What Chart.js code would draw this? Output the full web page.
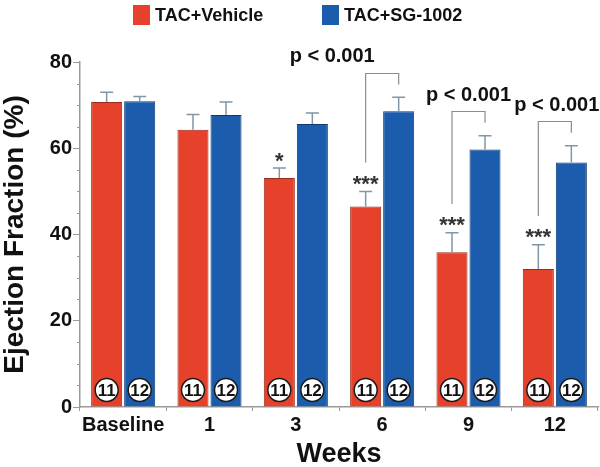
<!DOCTYPE html>
<html>
<head>
<meta charset="utf-8">
<script src="https://cdn.jsdelivr.net/npm/chart.js@4.4.1/dist/chart.umd.min.js"></script>
<style>
html, body { margin: 0; padding: 0; background: #fff; }
canvas { display: block; }
</style>
</head>
<body>
<canvas id="efChart" width="600" height="467"></canvas>
<script>
// Ejection fraction over time, TAC+Vehicle vs TAC+SG-1002
const weeks = ['Baseline', '1', '3', '6', '9', '12'];
const vehicleEF = [70.7, 64.3, 53.1, 46.5, 35.9, 32.0];
const vehicleErr = [2.3, 3.5, 2.3, 3.5, 4.5, 5.6];
const sgEF = [70.9, 67.7, 65.6, 68.6, 59.7, 56.7];
const sgErr = [1.1, 3.0, 2.6, 3.2, 3.2, 3.9];
const vehicleN = [11, 11, 11, 11, 11, 11];
const sgN = [12, 12, 12, 12, 12, 12];
const stars = ['', '', '*', '***', '***', '***'];
const pValues = ['', '', '', 'p < 0.001', 'p < 0.001', 'p < 0.001'];

const colors = {
    red: '#E5412B',
    redEdge: '#9a2a1a',
    blue: '#1B5DAC',
    blueEdge: '#0f3a70',
    axis: '#9a9a9a',
    err: '#7f97a8',
    bracket: '#8c8c8c',
    text: '#111111'
};
const FONT = "'Liberation Sans', Arial, Helvetica, sans-serif";

const annotate = {
    id: 'annotate',
    afterDatasetsDraw(chart) {
        const ctx = chart.ctx;
        const y = chart.scales.y;
        const area = chart.chartArea;
        const vMeta = chart.getDatasetMeta(0);
        const sMeta = chart.getDatasetMeta(1);
        ctx.save();

        // minor y ticks every 5
        ctx.strokeStyle = colors.axis;
        ctx.lineWidth = 1;
        for (let v = 5; v < 80; v += 5) {
            if (v % 20 === 0) continue;
            const py = Math.round(y.getPixelForValue(v)) + 0.5;
            ctx.beginPath();
            ctx.moveTo(area.left - 3, py);
            ctx.lineTo(area.left, py);
            ctx.stroke();
        }

        // upper error bars
        const errBar = (bar, val, err) => {
            const top = y.getPixelForValue(val + err);
            ctx.strokeStyle = colors.err;
            ctx.lineWidth = 1.5;
            ctx.beginPath();
            ctx.moveTo(bar.x, bar.y);
            ctx.lineTo(bar.x, top);
            ctx.moveTo(bar.x - 6.5, top);
            ctx.lineTo(bar.x + 6.5, top);
            ctx.stroke();
        };
        weeks.forEach((_, i) => {
            errBar(vMeta.data[i], vehicleEF[i], vehicleErr[i]);
            errBar(sMeta.data[i], sgEF[i], sgErr[i]);
        });

        // n circles at bar bottoms
        const nBadge = (bar, n) => {
            const cy = area.bottom - 17;
            ctx.beginPath();
            ctx.arc(bar.x, cy, 11.5, 0, Math.PI * 2);
            ctx.fillStyle = '#fff';
            ctx.fill();
            ctx.lineWidth = 1.5;
            ctx.strokeStyle = '#1a1a1a';
            ctx.stroke();
            ctx.fillStyle = colors.text;
            ctx.font = 'bold 17px ' + FONT;
            ctx.textAlign = 'center';
            ctx.textBaseline = 'middle';
            ctx.fillText(String(n), bar.x, cy + 1);
        };
        weeks.forEach((_, i) => {
            nBadge(vMeta.data[i], vehicleN[i]);
            nBadge(sMeta.data[i], sgN[i]);
        });

        // significance stars and brackets
        weeks.forEach((_, i) => {
            const rx = vMeta.data[i].x;
            const bx = sMeta.data[i].x;
            const starV = vehicleEF[i] + vehicleErr[i] + 3;
            if (stars[i]) {
                ctx.fillStyle = '#333';
                ctx.font = 'bold 22px ' + FONT;
                ctx.textAlign = 'center';
                ctx.textBaseline = 'alphabetic';
                ctx.fillText(stars[i], rx, y.getPixelForValue(starV) + 12.5);
            }
            if (pValues[i]) {
                const rightV = sgEF[i] + sgErr[i] + 3;
                const topV = rightV + 2.7;
                const leftV = starV + 3.7;
                const top = Math.round(y.getPixelForValue(topV)) + 0.5;
                ctx.strokeStyle = colors.bracket;
                ctx.lineWidth = 1.2;
                ctx.beginPath();
                ctx.moveTo(rx, y.getPixelForValue(leftV));
                ctx.lineTo(rx, top);
                ctx.lineTo(bx, top);
                ctx.lineTo(bx, y.getPixelForValue(rightV));
                ctx.stroke();
                const shift = chart.options.plugins.annotate.pShift[i];
                ctx.fillStyle = colors.text;
                ctx.font = 'bold 20px ' + FONT;
                ctx.textAlign = 'center';
                ctx.textBaseline = 'middle';
                ctx.fillText(pValues[i], (rx + bx) / 2 + shift, y.getPixelForValue(topV + 3.7));
            }
        });

        // legend
        const legend = [['TAC+Vehicle', colors.red, 133], ['TAC+SG-1002', colors.blue, 322]];
        legend.forEach(([label, col, lx]) => {
            ctx.fillStyle = col;
            ctx.fillRect(lx, 5, 17, 20);
            ctx.fillStyle = colors.text;
            ctx.font = 'bold 18px ' + FONT;
            ctx.textAlign = 'left';
            ctx.textBaseline = 'middle';
            ctx.fillText(label, lx + 22, 16);
        });
        ctx.restore();
    }
};

const ctx = document.getElementById('efChart').getContext('2d');
const chart = new Chart(ctx, {
    type: 'bar',
    data: {
        labels: weeks,
        datasets: [{
            label: 'TAC+Vehicle',
            data: vehicleEF,
            backgroundColor: colors.red,
            borderColor: colors.redEdge,
            borderWidth: 1,
            categoryPercentage: 0.765,
            barPercentage: 0.94
        }, {
            label: 'TAC+SG-1002',
            data: sgEF,
            backgroundColor: colors.blue,
            borderColor: colors.blueEdge,
            borderWidth: 1,
            categoryPercentage: 0.765,
            barPercentage: 0.94
        }]
    },
    options: {
        responsive: false,
        animation: false,
        layout: { padding: { top: 62, right: 2, left: 0, bottom: 0 } },
        plugins: {
            legend: { display: false },
            tooltip: { enabled: false },
            annotate: { pShift: [0, 0, 0, -50, 0, 2] }
        },
        scales: {
            x: {
                offset: true,
                grid: { display: true, drawOnChartArea: false, tickLength: 4, color: colors.axis },
                border: { color: colors.axis, width: 1.5 },
                ticks: { color: colors.text, font: { family: FONT, size: 20, weight: 'bold' }, padding: 2, maxRotation: 0 },
                title: { display: true, text: 'Weeks', color: colors.text, font: { family: FONT, size: 27, weight: 'bold', lineHeight: 1 }, padding: { top: 0, bottom: -1 } },
                afterFit: s => { s.height = 60; }
            },
            y: {
                min: 0,
                max: 80,
                grid: {
                    display: true,
                    drawOnChartArea: false,
                    tickLength: 7,
                    tickColor: c => (c.tick && c.tick.value % 20 === 0 ? colors.axis : 'rgba(0,0,0,0)')
                },
                border: { color: colors.axis, width: 1.5 },
                ticks: {
                    stepSize: 5,
                    autoSkip: false,
                    padding: 1,
                    color: colors.text,
                    font: { family: FONT, size: 20, weight: 'bold' },
                    callback: v => (v % 20 === 0 ? v : '')
                },
                title: { display: true, text: 'Ejection Fraction (%)', color: colors.text, font: { family: FONT, size: 28, weight: 'bold', lineHeight: 1 }, padding: { top: 1, bottom: 0 } },
                afterFit: s => { s.width = 80; }
            }
        }
    },
    plugins: [annotate]
});
</script>
</body>
</html>
